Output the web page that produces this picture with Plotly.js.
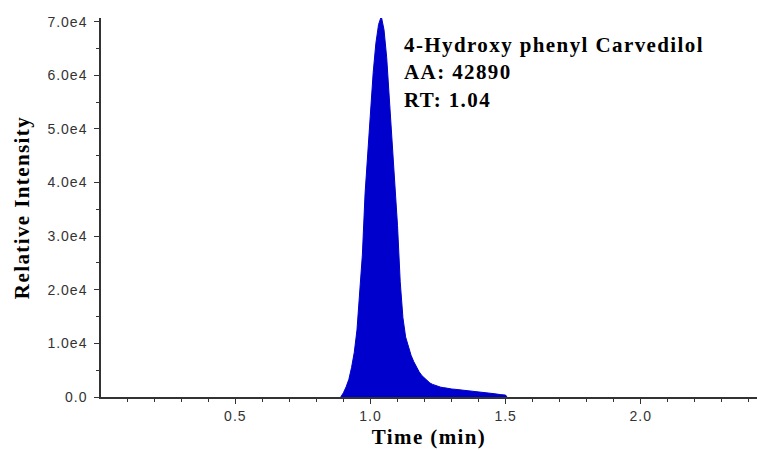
<!DOCTYPE html>
<html>
<head>
<meta charset="utf-8">
<script src="https://cdn.plot.ly/plotly-3.0.1.min.js"></script>
<style>
html,body{margin:0;padding:0;background:#fff;}
#chart{width:757px;height:450px;}
#chart .annotation-text, #chart .xtitle, #chart .ytitle { letter-spacing: 1.4px; }
#chart .xtick text, #chart .ytick text { letter-spacing: 1px; }
</style>
</head>
<body>
<div id="chart"></div>
<script>
// Retention time (min) and relative intensity
var timeMin = [0.89,0.90,0.91,0.92,0.93,0.94,0.95,0.96,0.97,0.98,0.99,1.00,1.01,1.02,1.03,1.04,1.05,1.06,1.07,1.08,1.09,1.10,1.11,1.12,1.13,1.14,1.15,1.16,1.17,1.18,1.19,1.20,1.21,1.22,1.23,1.24,1.25,1.26,1.27,1.28,1.29,1.30,1.32,1.34,1.36,1.38,1.40,1.42,1.44,1.46,1.48,1.50,1.505];
var intensity = [0,800,1900,3300,5500,8300,12500,18700,26500,38000,46000,52700,60500,66000,69500,71000,68500,63300,55400,48200,41000,32000,21500,14800,11200,9300,7800,6600,5600,4700,4000,3500,3000,2600,2350,2150,1950,1830,1750,1650,1580,1500,1400,1300,1150,1050,950,800,700,600,450,350,0];

var yTickVals = [0,10000,20000,30000,40000,50000,60000,70000];
var yTickText = ['0.0','1.0e4','2.0e4','3.0e4','4.0e4','5.0e4','6.0e4','7.0e4'];

var compoundName = '4-Hydroxy phenyl Carvedilol';
var areaText = 'AA: 42890';
var rtText = 'RT: 1.04';

var serif = '"Liberation Serif", "Times New Roman", serif';
var sans = '"Liberation Sans", Arial, sans-serif';

var trace = {
  x: timeMin,
  y: intensity,
  type: 'scatter',
  mode: 'lines',
  line: {color: '#0000cc', width: 1, shape: 'linear'},
  fill: 'tozeroy',
  fillcolor: '#0000cc',
  hoverinfo: 'x+y'
};

var layout = {
  width: 757,
  height: 450,
  margin: {l: 101, r: 0, t: 18, b: 53},
  paper_bgcolor: '#ffffff',
  plot_bgcolor: '#ffffff',
  showlegend: false,
  xaxis: {
    range: [0.003, 2.43],
    tickmode: 'linear',
    tick0: 0,
    dtick: 0.5,
    tickformat: '.1f',
    ticks: 'outside',
    ticklen: 5,
    tickwidth: 1.2,
    tickcolor: '#333',
    minor: {dtick: 0.1, tick0: 0, ticks: 'outside', ticklen: 3, tickwidth: 1.2, tickcolor: '#333'},
    showline: true,
    linecolor: '#333',
    linewidth: 1.5,
    showgrid: false,
    zeroline: false,
    tickfont: {family: sans, size: 14, color: '#333'},
    title: {text: '<b>Time (min)</b>', font: {family: serif, size: 21, color: '#000'}, standoff: 7}
  },
  yaxis: {
    range: [0, 70700],
    tickmode: 'array',
    tickvals: yTickVals,
    ticktext: yTickText,
    ticks: 'outside',
    ticklen: 5,
    tickwidth: 1.2,
    tickcolor: '#333',
    ticklabelstandoff: 4,
    minor: {dtick: 5000, tick0: 0, ticks: 'outside', ticklen: 3, tickwidth: 1.2, tickcolor: '#333'},
    showline: true,
    linecolor: '#333',
    linewidth: 1.5,
    showgrid: false,
    zeroline: false,
    tickfont: {family: sans, size: 14, color: '#333'},
    title: {text: '<b>Relative Intensity</b>', font: {family: serif, size: 21, color: '#000'}, standoff: 17}
  },
  annotations: [{
    xref: 'paper', yref: 'paper',
    x: 0.459, y: 0.967,
    xanchor: 'left', yanchor: 'top',
    align: 'left',
    showarrow: false,
    text: '<b>' + compoundName + '</b><br><b>' + areaText + '</b><br><b>' + rtText + '</b>',
    font: {family: serif, size: 21, color: '#000'}
  }]
};

Plotly.newPlot('chart', [trace], layout, {displayModeBar: false, responsive: false});
</script>
</body>
</html>
